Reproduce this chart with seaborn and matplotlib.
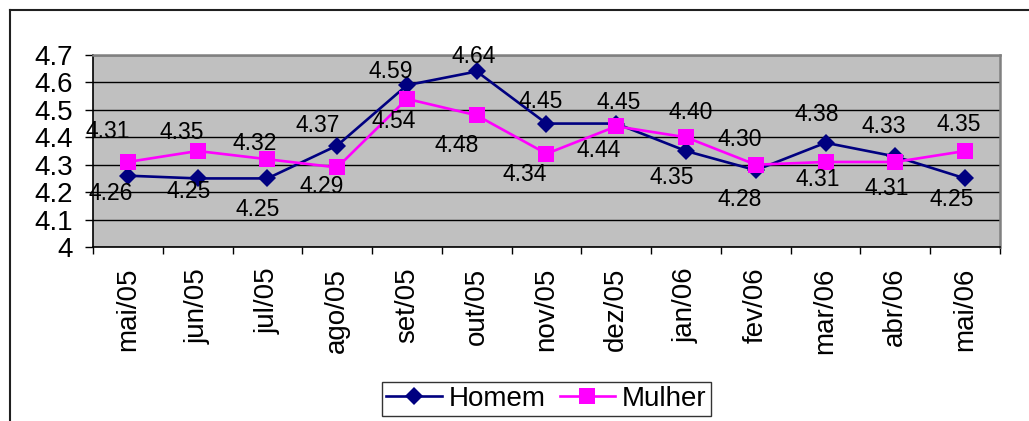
import numpy as np
import pandas as pd
import seaborn as sns
import matplotlib.pyplot as plt
from matplotlib.lines import Line2D

plt.rcParams['font.family'] = ['Liberation Sans', 'DejaVu Sans']

meses = ['mai/05', 'jun/05', 'jul/05', 'ago/05', 'set/05', 'out/05', 'nov/05',
         'dez/05', 'jan/06', 'fev/06', 'mar/06', 'abr/06', 'mai/06']
homem = [4.26, 4.25, 4.25, 4.37, 4.59, 4.64, 4.45, 4.45, 4.35, 4.28, 4.38, 4.33, 4.25]
mulher = [4.31, 4.35, 4.32, 4.29, 4.54, 4.48, 4.34, 4.44, 4.40, 4.30, 4.31, 4.31, 4.35]
y_ticks = [4.0, 4.1, 4.2, 4.3, 4.4, 4.5, 4.6, 4.7]

# posicao dos rotulos (pixels, relativo ao marcador)
off_homem = [(-17, 18), (-9, 13), (-10, 31), (-20, -20), (-16, -14), (-3, -15), (-6, -22),
             (2, -21), (-14, 26), (-16, 29), (-9, -28), (-12, -30), (-13, 21)]
off_mulher = [(-20, -30), (-16, -19), (-13, -16), (-16, 19), (-13, 23), (-20, 30), (-22, 21),
              (-18, 24), (5, -25), (-16, -25), (-8, 18), (-9, 27), (-6, -27)]

df = pd.concat([
    pd.DataFrame({'mes': meses, 'valor': homem, 'sexo': 'Homem'}),
    pd.DataFrame({'mes': meses, 'valor': mulher, 'sexo': 'Mulher'}),
])
cores = {'Homem': '#000080', 'Mulher': '#FF00FF'}
tam_marcador = {'D': 9.5, 's': 11}

fig = plt.figure(figsize=(10.29, 4.21), dpi=100)
ax = fig.add_axes([93 / 1029, 1 - 247 / 421, 907 / 1029, 192 / 421])

sns.pointplot(data=df, x='mes', y='valor', hue='sexo', order=meses, palette=cores,
              markers=['D', 's'], linestyles=['-', '-'], errorbar=None, ax=ax,
              markersize=10, linewidth=1.9, markeredgewidth=0)
for ln in ax.lines:
    if ln.get_marker() in tam_marcador:
        ln.set_markersize(tam_marcador[ln.get_marker()])

ax.set_facecolor('#C0C0C0')
ax.set_ylim(4.0, 4.7)
ax.set_yticks(y_ticks)
ax.set_yticklabels([f'{v:g}' for v in y_ticks], fontsize=20)
ax.yaxis.grid(True, color='black', linewidth=1)
ax.set_axisbelow(True)
ax.set_xlabel('')
ax.set_ylabel('')
ax.set_xticks(range(len(meses)))
ax.set_xticklabels(meses, rotation=90, fontsize=20)
ax.set_xticks(np.arange(-0.5, len(meses), 1), minor=True)
ax.tick_params(axis='x', which='major', length=0, pad=15)
ax.tick_params(axis='x', which='minor', length=5, width=1, direction='out')
ax.tick_params(axis='y', length=5.5, width=1, pad=9, direction='out')
ax.set_xlim(-0.5, len(meses) - 0.5)
for s in ['left', 'bottom']:
    ax.spines[s].set_color('black')
    ax.spines[s].set_linewidth(1.2)
for s in ['top', 'right']:
    ax.spines[s].set_color('#808080')
    ax.spines[s].set_linewidth(1.8)

for vals, offs in [(homem, off_homem), (mulher, off_mulher)]:
    for i, (v, (dx, dy)) in enumerate(zip(vals, offs)):
        ax.annotate(f'{v:.2f}', (i, v), xytext=(dx * 0.72, -dy * 0.72),
                    textcoords='offset points', ha='center', va='center',
                    fontsize=16.5, annotation_clip=False)

handles, labels = ax.get_legend_handles_labels()
for h in handles:
    if h.get_marker() in tam_marcador:
        h.set_markersize(tam_marcador[h.get_marker()])
ax.get_legend().remove()
leg = fig.legend(handles, labels, loc='center', bbox_to_anchor=(0.531, 0.053), ncol=2,
                 fontsize=20, frameon=True, fancybox=False, edgecolor='black',
                 handlelength=2.0, handletextpad=0.25, columnspacing=0.5,
                 borderpad=0.15, borderaxespad=0)
leg.get_frame().set_linewidth(1.0)

# moldura externa do grafico
fig.add_artist(Line2D([10 / 1029, 10 / 1029], [0, 1 - 10 / 421], color='#202020', lw=1.5,
                      transform=fig.transFigure))
fig.add_artist(Line2D([10 / 1029, 1], [1 - 10 / 421, 1 - 10 / 421], color='#202020', lw=1.5,
                      transform=fig.transFigure))

fig.savefig('out.png', dpi=100)
